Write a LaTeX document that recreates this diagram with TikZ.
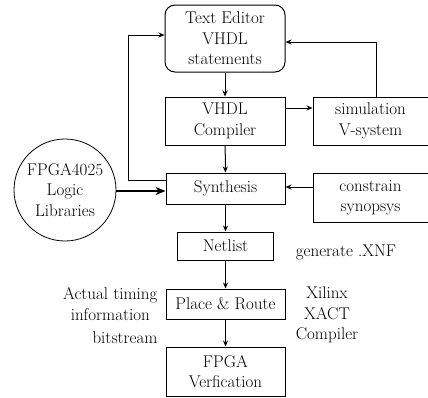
\documentclass[tikz,border=0pt]{standalone}
\usetikzlibrary{arrows.meta,positioning}

\begin{document}
\begin{tikzpicture}[x=1pt, y=-1pt,
  box/.style={draw, line width=1pt, inner sep=0pt, align=center, font=\fontsize{17}{20.5}\selectfont},
  lib/.style={draw, circle, line width=0.8pt, inner sep=0pt, minimum size=102pt, align=center, font=\fontsize{17}{20.5}\selectfont},
  arr/.style={-{Stealth[length=6pt, width=5pt]}, line width=1pt},
  bigarr/.style={-{Stealth[length=10pt, width=8pt]}, line width=2.4pt},
  label/.style={align=center, font=\fontsize{17}{20.5}\selectfont},
]

\useasboundingbox (0,0) rectangle (428,397);

% main flow (middle column)
\node[box, rounded corners=10pt, minimum width=120pt, minimum height=67pt] (editor) at (225,38.5) {Text Editor\\VHDL\\statements};
\node[box, minimum width=120pt, minimum height=48pt] (vhdlc) at (225,121) {VHDL\\Compiler};
\node[box, minimum width=119pt, minimum height=31pt] (synth) at (225.5,188.5) {Synthesis};
\node[box, minimum width=96pt, minimum height=28pt] (netlist) at (225.5,246) {Netlist};
\node[box, minimum width=119pt, minimum height=30pt] (place) at (225.5,304) {Place \& Route};
\node[box, minimum width=119pt, minimum height=49pt] (fpga) at (225.5,371.5) {FPGA\\Verfication};

% right column
\node[box, minimum width=115pt, minimum height=48pt] (sim) at (370.5,121) {simulation\\V-system};
\node[box, minimum width=115pt, minimum height=49pt] (constr) at (370.5,197.5) {constrain\\synopsys};

% libraries
\node[lib] (libs) at (65,190) {FPGA4025\\Logic\\Libraries};

% side notes
\node[label] (xnf) at (346,252) {generate .XNF};
\node[label] (xact) at (327,315) {Xilinx\\XACT\\Compiler};
\node[label, anchor=east] (timing) at (161,304) {Actual timing\\information};
\node[label, anchor=east] (bits) at (161,338) {bitstream};

% arrows down the flow
\draw[arr] (editor) -- (vhdlc);
\draw[arr] (vhdlc) -- (synth);
\draw[arr] (synth) -- (netlist);
\draw[arr] (netlist) -- (place);
\draw[arr] (place) -- (fpga);

% arrows to and from the right column
\draw[arr] (vhdlc.east |- 0,108) -- (sim.west |- 0,108);
\draw[arr] (constr.west |- 0,187) -- (synth.east |- 0,187);
\draw[arr] (sim.north -| 376,0) |- (editor.east |- 0,42);

% feedback from synthesis
\draw[arr] (synth.west |- 0,180) -| (128,35) -- (editor.west |- 0,35);

% libraries into synthesis
\draw[bigarr] (libs.east |- 0,191) -- (synth.west |- 0,191);

\end{tikzpicture}
\end{document}
